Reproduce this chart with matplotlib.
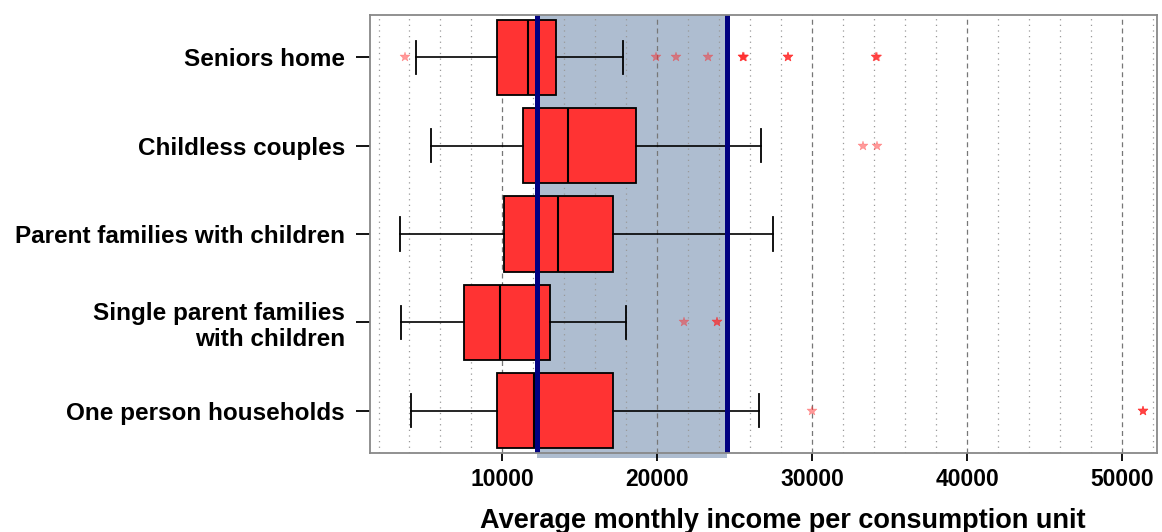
import matplotlib
matplotlib.use("Agg")
import matplotlib.pyplot as plt
import numpy as np

plt.rcParams['font.family'] = ['Liberation Sans', 'DejaVu Sans']

categories = ["One person households",
              "Single parent families\nwith children",
              "Parent families with children",
              "Childless couples",
              "Seniors home"]
q1 = [9680, 7550, 10070, 11360, 9680]
med = [12070, 9870, 13610, 14260, 11680]
q3 = [17160, 13100, 17160, 18650, 13480]
whislo = [4130, 3480, 3360, 5360, 4390]
whishi = [26580, 18000, 27480, 26710, 17810]
fliers = [
    [30000, 51350, 51350, 51350],
    [21750, 23850, 23850],
    [],
    [33300, 34200],
    [3700, 19900, 21200, 23300, 25500, 25550, 25600, 25500,
     28450, 28450, 28450, 34150, 34150, 34200],
]
band_low, band_high = 12260, 24520
x_ticks = [10000, 20000, 30000, 40000, 50000]

fig = plt.figure(figsize=(11.62, 5.32), dpi=100)
ax = fig.add_axes([0.3184, 0.1485, 0.6773, 0.8233])

stats = []
for i in range(len(categories)):
    stats.append(dict(q1=q1[i], med=med[i], q3=q3[i], whislo=whislo[i],
                      whishi=whishi[i], fliers=fliers[i], label=categories[i]))

positions = np.arange(1, len(categories) + 1)
ax.bxp(stats, positions=positions, orientation='horizontal', widths=0.85,
       capwidths=0.38, patch_artist=True,
       boxprops=dict(facecolor='#ff3333', edgecolor='black', linewidth=1.3),
       medianprops=dict(color='black', linewidth=1.5),
       whiskerprops=dict(color='black', linewidth=1.2),
       capprops=dict(color='black', linewidth=1.3),
       flierprops=dict(marker='*', markerfacecolor='#ff2020', markeredgecolor='#ff2020',
                       markersize=7, alpha=0.45, markeredgewidth=0.3),
       zorder=3)

ax.set_xlim(1450, 52260)
ax.set_ylim(0.52, 5.48)

# shaded band (slightly overhanging the bottom, like a shadow)
ax.axvspan(band_low, band_high, ymin=-0.012, ymax=1, color='#aebdd0', zorder=0.5,
           clip_on=False, linewidth=0)
for xv in [band_low, band_high]:
    ax.axvline(xv, color='#000080', linewidth=3.6, zorder=5)

# grid lines
for g in range(2000, 54000, 2000):
    if g % 10000 == 0:
        ax.axvline(g, color='#777777', linestyle=(0, (4, 3)), linewidth=0.9, zorder=1)
    else:
        ax.axvline(g, color='#999999', linestyle=(0, (1, 3.5)), linewidth=0.9, zorder=1)

ax.set_yticks(positions)
ax.set_yticklabels(categories, fontsize=17.5, fontweight='bold', multialignment='right')
ax.set_xticks(x_ticks)
ax.set_xticklabels([str(t) for t in x_ticks], fontsize=16.5, fontweight='bold')
ax.tick_params(axis='y', length=10, width=1.3, pad=8, color='black')
ax.tick_params(axis='x', length=5.5, width=1.3, pad=5, color='black')
ax.set_xlabel("Average monthly income per consumption unit", fontsize=19.5,
              fontweight='bold', labelpad=8)
ax.xaxis.set_label_coords(0.524, -0.125)
for s in ax.spines.values():
    s.set_color('#888888')
    s.set_linewidth(1.3)
    s.set_zorder(6)

fig.savefig("out.png", dpi=100)
